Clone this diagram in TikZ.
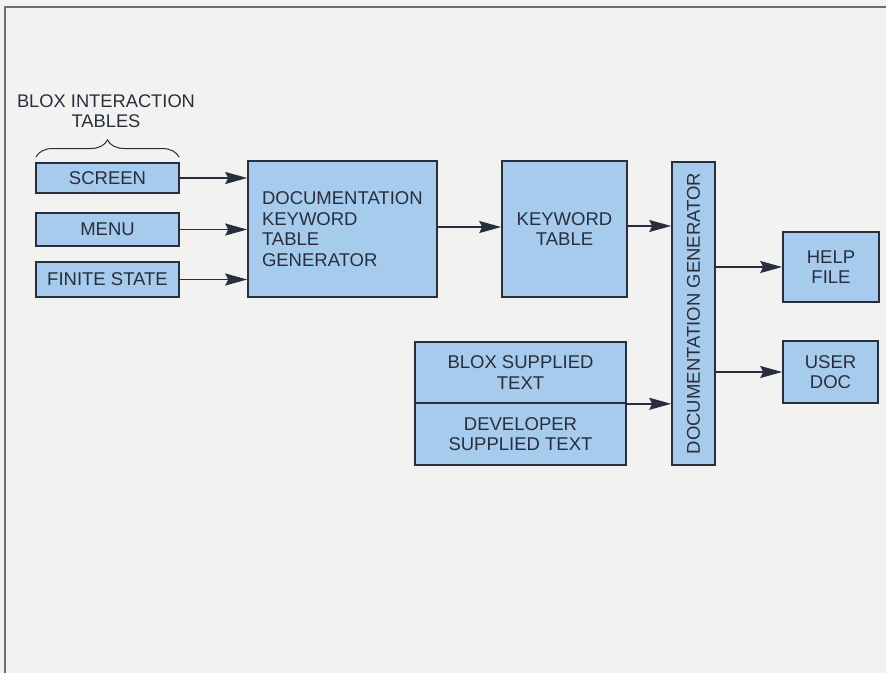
\documentclass[tikz,border=0pt]{standalone}
\usepackage{fontspec}
\setmainfont{Liberation Sans}
\usetikzlibrary{arrows.meta,decorations.pathreplacing}
\definecolor{bg}{RGB}{242,242,240}
\definecolor{boxblue}{RGB}{166,203,236}
\definecolor{ink}{RGB}{40,46,62}
\definecolor{framegray}{RGB}{110,110,110}
\begin{document}
\begin{tikzpicture}[x=1pt,y=-1pt,
  box/.style={draw=ink, line width=1.6pt, fill=boxblue, text=ink, inner sep=0pt,
    font=\fontsize{18.5}{20.5}\selectfont, align=center},
  conn/.style={draw=ink, line width=1.5pt, -{Stealth[length=22pt,width=12pt,inset=3pt]}}]
\useasboundingbox (0,0) rectangle (886,673);
\fill[bg] (0,0) rectangle (886,673);
\draw[framegray, line width=1.6pt] (5,673) -- (5,7) -- (886,7);

\node[box, minimum width=143pt, minimum height=30pt] (screen) at (107.5,178) {SCREEN};
\node[box, minimum width=143pt, minimum height=33pt] (menu) at (107.5,229.5) {MENU};
\node[box, minimum width=143pt, minimum height=35pt] (finite) at (107.5,279.5) {FINITE STATE};

\node[text=ink, align=center, font=\fontsize{18.3}{19.5}\selectfont] (label) at (106,111) {BLOX INTERACTION\\TABLES};
\draw[ink, line width=1pt, decorate, decoration={brace, amplitude=17pt}] (36,157) -- (179,157);

\node[box, minimum width=189pt, minimum height=136pt, text width=161pt, inner xsep=14pt, align=left] (dktg) at (342.5,229) {DOCUMENTATION\\KEYWORD\\TABLE\\GENERATOR};
\node[box, minimum width=125pt, minimum height=136pt] (kt) at (564.5,229) {KEYWORD\\TABLE};
\node[box, minimum width=303pt, minimum height=43pt, rotate=90] (docgen) at (693.5,313.5) {DOCUMENTATION GENERATOR};
\node[box, minimum width=96pt, minimum height=70pt] (help) at (831,267) {HELP\\FILE};
\node[box, minimum width=95pt, minimum height=62pt] (user) at (830.5,372) {USER\\DOC};
\node[box, minimum width=211pt, minimum height=61pt] (blox) at (520.5,372.5) {BLOX SUPPLIED\\TEXT};
\node[box, minimum width=211pt, minimum height=62pt] (dev) at (520.5,434) {DEVELOPER\\SUPPLIED TEXT};

\draw[conn] (screen.east) -- (screen.east -| dktg.west);
\draw[conn] (menu.east) -- (menu.east -| dktg.west);
\draw[conn] (finite.east) -- (finite.east -| dktg.west);
\draw[conn] ([yshift=2pt]dktg.east) -- ([yshift=2pt]dktg.east -| kt.west);
\draw[conn] ([yshift=3pt]kt.east) -- ([yshift=3pt]kt.east -| docgen.north);
\draw[conn] (blox.south east) -- (blox.south east -| docgen.north);
\draw[conn] (help.west -| docgen.south) -- (help.west);
\draw[conn] (user.west -| docgen.south) -- (user.west);
\end{tikzpicture}
\end{document}
